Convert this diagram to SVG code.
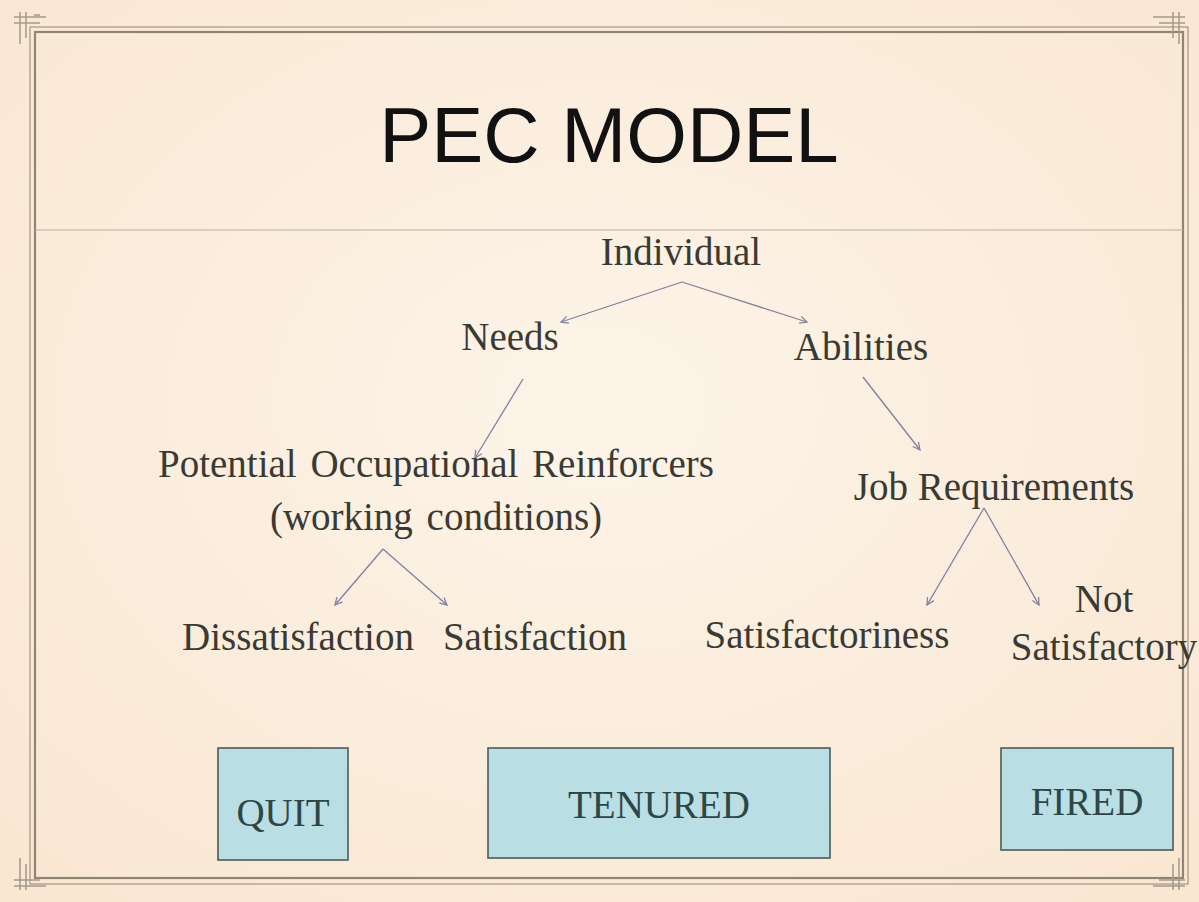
<svg xmlns="http://www.w3.org/2000/svg" width="1199" height="902" viewBox="0 0 1199 902">
  <defs>
    <radialGradient id="paper" cx="50%" cy="45%" r="70%">
      <stop offset="0" stop-color="#fdf4e8"/>
      <stop offset="1" stop-color="#f9e7d2"/>
    </radialGradient>
    <marker id="tip" viewBox="0 0 10 10" refX="9" refY="5" markerWidth="9" markerHeight="9" markerUnits="userSpaceOnUse" orient="auto">
      <path d="M1,1 L9,5 L1,9" fill="none" stroke="#8080a0" stroke-width="1.4"/>
    </marker>
    <style>
      .lbl { font-family: "Liberation Serif", "Times New Roman", serif; font-size: 39px; fill: #3a3a34; text-anchor: middle; }
      .box rect { fill: #b9dfe4; stroke: #4d5a5a; stroke-width: 1.6; }
      .box text { font-family: "Liberation Serif", "Times New Roman", serif; font-size: 39px; fill: #2e4646; text-anchor: middle; }
      .link { fill: none; stroke: #8080a0; stroke-width: 1.3; marker-end: url(#tip); }
      .frame { fill: none; stroke: #8f8576; }
      .orn { stroke: #a39a8c; stroke-width: 1.5; fill: none; }
    </style>
  </defs>

  <!-- paper background -->
  <rect x="0" y="0" width="1199" height="902" fill="url(#paper)"/>

  <!-- double frame -->
  <rect class="frame" x="30" y="27" width="1158" height="857" stroke-width="1"/>
  <rect class="frame" x="35" y="32" width="1148" height="846" stroke-width="2.2"/>

  <!-- corner flourishes -->
  <g class="orn">
    <path d="M14,17 H46 M14,23 H40 M20,12 V44 M26,12 V38 M34,15 L40,15"/>
    <path d="M1185,17 H1153 M1185,23 H1159 M1179,12 V44 M1173,12 V38"/>
    <path d="M14,886 H46 M14,880 H40 M20,890 V858 M26,890 V864"/>
    <path d="M1185,886 H1153 M1185,880 H1159 M1179,890 V858 M1173,890 V864"/>
  </g>

  <!-- divider under title -->
  <line x1="35" y1="230" x2="1183" y2="230" stroke="#b8b0a6" stroke-width="1.2"/>

  <!-- title -->
  <text x="609" y="162" font-family="Liberation Sans, Arial, sans-serif" font-size="78" fill="#111" text-anchor="middle">PEC MODEL</text>

  <!-- connectors -->
  <g id="connectors">
    <line class="link" x1="682" y1="282" x2="561" y2="322"/>
    <line class="link" x1="682" y1="282" x2="807" y2="322"/>
    <line class="link" x1="523" y1="379" x2="475" y2="458"/>
    <line class="link" x1="863" y1="377" x2="920" y2="450"/>
    <line class="link" x1="383" y1="549" x2="335" y2="605"/>
    <line class="link" x1="383" y1="549" x2="447" y2="605"/>
    <line class="link" x1="984" y1="508" x2="927" y2="605"/>
    <line class="link" x1="984" y1="508" x2="1039" y2="605"/>
  </g>

  <!-- nodes -->
  <g id="individual"><text class="lbl" x="681" y="265">Individual</text></g>
  <g id="needs"><text class="lbl" x="510" y="350">Needs</text></g>
  <g id="abilities"><text class="lbl" x="861" y="360">Abilities</text></g>
  <g id="reinforcers">
    <text class="lbl" x="436" y="477" word-spacing="4">Potential Occupational Reinforcers</text>
    <text class="lbl" x="436" y="530" word-spacing="4">(working conditions)</text>
  </g>
  <g id="job-requirements"><text class="lbl" x="994" y="500">Job Requirements</text></g>
  <g id="dissatisfaction"><text class="lbl" x="298" y="650">Dissatisfaction</text></g>
  <g id="satisfaction"><text class="lbl" x="535" y="650">Satisfaction</text></g>
  <g id="satisfactoriness"><text class="lbl" x="827" y="648">Satisfactoriness</text></g>
  <g id="not-satisfactory">
    <text class="lbl" x="1104" y="612">Not</text>
    <text class="lbl" x="1104" y="660">Satisfactory</text>
  </g>

  <g id="quit" class="box">
    <rect x="218" y="748" width="130" height="112"/>
    <text x="283" y="826">QUIT</text>
  </g>
  <g id="tenured" class="box">
    <rect x="488" y="748" width="342" height="110"/>
    <text x="659" y="818">TENURED</text>
  </g>
  <g id="fired" class="box">
    <rect x="1001" y="748" width="172" height="102"/>
    <text x="1087" y="815">FIRED</text>
  </g>
</svg>
